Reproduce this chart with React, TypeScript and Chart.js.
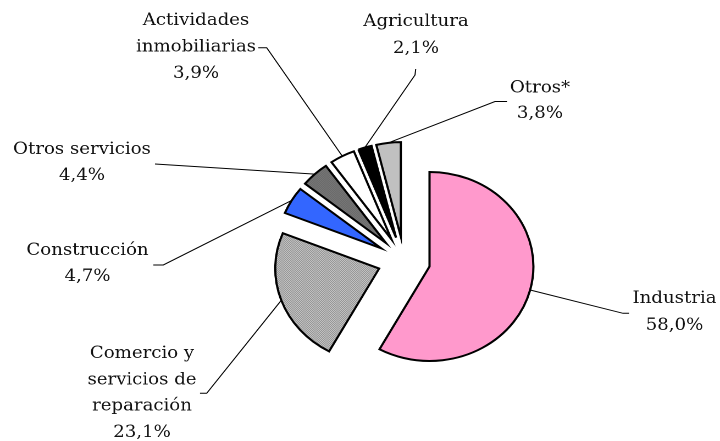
import React, { useEffect, useRef } from "react";
import { Chart, registerables } from "chart.js";

Chart.register(...registerables);

// ---- data ----
const categories = [
  "Industria",
  "Comercio y servicios de reparación",
  "Construcción",
  "Otros servicios",
  "Actividades inmobiliarias",
  "Agricultura",
  "Otros*",
];
const shares = [58.0, 23.1, 4.7, 4.4, 3.9, 2.1, 3.8];
const nameLines = [
  ["Industria"],
  ["Comercio y", "servicios de", "reparación"],
  ["Construcción"],
  ["Otros servicios"],
  ["Actividades", "inmobiliarias"],
  ["Agricultura"],
  ["Otros*"],
];

// ---- layout (screen px) ----
const W = 720;
const H = 441;
const CW = 655; // drawing width before horizontal stretch
const SX = W / CW;
const EXPLODE = 24;
const RADIUS = 94.5;
const FONT = '16.5px "DejaVu Serif", serif';

// label placement: text centre x, first baseline, line step, leader tail points
const labelLayout = [
  { cx: 674.5, b0: 303, step: 27, tail: [[623, 313.3], [629, 313.3]] },
  { cx: 142, b0: 358, step: 26.3, tail: [[206.7, 393.3], [200, 393.3]] },
  { cx: 87.5, b0: 255, step: 26, tail: [[163.3, 265], [153.3, 265]] },
  { cx: 82, b0: 154, step: 26, tail: [[155, 164]] },
  { cx: 196, b0: 25, step: 26.5, tail: [[266.7, 47.7], [258.3, 47.7]] },
  { cx: 416, b0: 26, step: 27, tail: [[415, 75], [415.7, 69]] },
  { cx: 540, b0: 92.7, step: 25.5, tail: [[495, 101.5], [507, 101.5]] },
];

function checker(a: string, b: string) {
  const c = document.createElement("canvas");
  c.width = 2;
  c.height = 2;
  const g = c.getContext("2d")!;
  g.fillStyle = b;
  g.fillRect(0, 0, 2, 2);
  g.fillStyle = a;
  g.fillRect(0, 0, 1, 1);
  g.fillRect(1, 1, 1, 1);
  return g.createPattern(c, "repeat")!;
}

const explodePlugin = {
  id: "explode",
  beforeDatasetsDraw(chart: any) {
    const ca = chart.chartArea;
    const cx = (ca.left + ca.right) / 2;
    const cy = (ca.top + ca.bottom) / 2;
    chart.getDatasetMeta(0).data.forEach((arc: any) => {
      const mid = (arc.startAngle + arc.endAngle) / 2;
      arc.x = cx + EXPLODE * Math.cos(mid);
      arc.y = cy + EXPLODE * Math.sin(mid);
    });
  },
};

const labelPlugin = {
  id: "pieLabels",
  afterDatasetsDraw(chart: any) {
    const ctx = chart.ctx;
    const arcs = chart.getDatasetMeta(0).data;
    ctx.save();
    ctx.strokeStyle = "#000";
    ctx.lineWidth = 1;
    ctx.fillStyle = "#111";
    ctx.font = FONT;
    ctx.textAlign = "center";
    ctx.textBaseline = "alphabetic";
    arcs.forEach((arc: any, i: number) => {
      const mid = (arc.startAngle + arc.endAngle) / 2;
      const sx = arc.x + Math.cos(mid) * arc.outerRadius;
      const sy = arc.y + Math.sin(mid) * arc.outerRadius;
      const L = labelLayout[i];
      ctx.beginPath();
      ctx.moveTo(sx, sy);
      L.tail.forEach((p) => ctx.lineTo(p[0] / SX, p[1]));
      ctx.stroke();
      const lines = [...nameLines[i], shares[i].toFixed(1).replace(".", ",") + "%"];
      lines.forEach((t, k) => ctx.fillText(t, L.cx / SX, L.b0 + k * L.step));
    });
    ctx.restore();
  },
};

export default function App() {
  const ref = useRef<HTMLCanvasElement>(null);
  useEffect(() => {
    if (!ref.current) return;
    const colors = [
      "#ff99cc",
      checker("#5a5a5a", "#ffffff"),
      "#3366ff",
      checker("#5c5c5c", "#858585"),
      "#ffffff",
      "#000000",
      "#c0c0c0",
    ];
    const chart = new Chart(ref.current, {
      type: "pie",
      data: {
        labels: categories,
        datasets: [
          {
            data: shares,
            backgroundColor: colors as any,
            borderColor: "#000",
            borderWidth: 2,
            borderJoinStyle: "miter",
            radius: RADIUS,
          } as any,
        ],
      },
      options: {
        responsive: false,
        animation: false,
        devicePixelRatio: 2,
        events: [],
        layout: { padding: { left: 80, top: 80, right: 0, bottom: 0 } },
        plugins: { legend: { display: false }, tooltip: { enabled: false } },
      },
      plugins: [explodePlugin, labelPlugin],
    });
    return () => chart.destroy();
  }, []);
  return (
    <div
      style={{
        position: "absolute",
        left: 0,
        top: 0,
        width: W,
        height: H,
        overflow: "hidden",
        background: "#fff",
      }}
    >
      <div style={{ width: CW, height: H, transform: `scaleX(${SX})`, transformOrigin: "0 0" }}>
        <canvas ref={ref} width={CW} height={H} style={{ display: "block" }} />
      </div>
    </div>
  );
}
